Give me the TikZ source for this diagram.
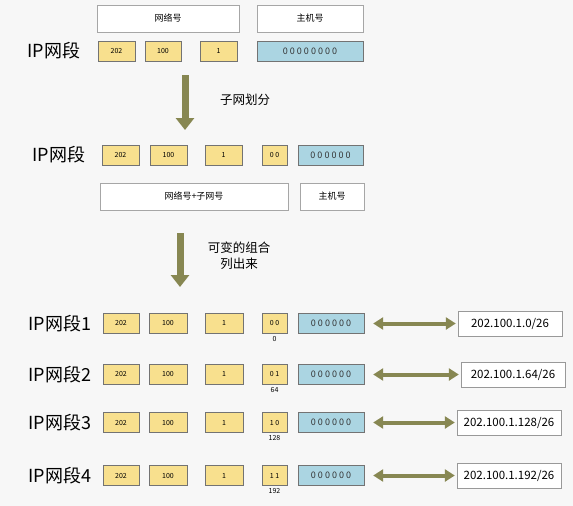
\documentclass[tikz,border=0pt]{standalone}
\usepackage{fontspec}
\setmainfont{Noto Sans CJK SC}
\usetikzlibrary{arrows.meta,positioning}
\definecolor{netyellow}{HTML}{F8E08E}
\definecolor{hostblue}{HTML}{ABD5E2}
\definecolor{olivearrow}{HTML}{878752}
\tikzset{
  netbox/.style={draw=black!55,fill=netyellow,minimum height=20pt,inner sep=0pt,font=\fontsize{7}{8}\selectfont},
  hostbox/.style={draw=black!55,fill=hostblue,minimum height=20pt,minimum width=66pt,inner sep=0pt,text=black!80,font=\fontsize{9}{10}\selectfont},
  partbox/.style={draw=black!35,fill=white,minimum height=27pt,inner sep=0pt,font=\fontsize{9}{10}\selectfont},
  resultbox/.style={draw=black!40,fill=white,minimum width=104pt,minimum height=25pt,inner sep=0pt,font=\fontsize{11.5}{13}\selectfont},
  seglabel/.style={font=\fontsize{18}{20}\selectfont},
  numlabel/.style={inner sep=1pt,font=\fontsize{7}{8}\selectfont},
  steplabel/.style={align=center,font=\fontsize{12.5}{16}\selectfont},
  downarrow/.style={olivearrow,line width=7pt,-{Triangle[width=18pt,length=12pt]}},
  bothways/.style={olivearrow,line width=4pt,{Triangle[width=12pt,length=10pt]}-{Triangle[width=12pt,length=10pt]}},
}
\begin{document}
\begin{tikzpicture}[x=1pt,y=-1pt]
    \fill[black!3] (0,0) rectangle (573,506);
    \useasboundingbox (0,0) rectangle (573,506);
    % original address
    \node (net0) at (168,18.5) [partbox,minimum width=142pt] {网络号};
    \node (host0) at (310,18.5) [partbox,minimum width=106pt] {主机号};
    \node (ip0) at (54,51) [seglabel] {IP网段};
    \node (a0) at (116.5,51) [netbox,minimum width=37pt] {202};
    \node (b0) at (163,51) [netbox,minimum width=36pt] {100};
    \node (c0) at (218.5,51) [netbox,minimum width=37pt] {1};
    \node (h0) at (310,51) [hostbox,minimum width=106pt] {0 0 0 0 0 0 0 0};
    \coordinate (s1) at (185,75);
    \coordinate (e1) at (185,130);
    \draw[downarrow] (s1) -- (e1);
    \node (split) at (245,100) [steplabel] {子网划分};
    % after subnetting
    \node (ip1) at (59,155) [seglabel] {IP网段};
    \node (a1) at (120.5,155) [netbox,minimum width=37pt] {202};
    \node (b1) at (168.5,155) [netbox,minimum width=37pt] {100};
    \node (c1) at (223.5,155) [netbox,minimum width=37pt] {1};
    \node (d1) at (274.5,155) [netbox,minimum width=25pt] {0 0};
    \node (h1) at (330.5,155) [hostbox,minimum width=65pt] {0 0 0 0 0 0};
    \node (net1) at (194,196.5) [partbox,minimum width=188pt] {网络号+子网号};
    \node (host1) at (332,196.5) [partbox,minimum width=64pt] {主机号};
    \coordinate (s2) at (180,233);
    \coordinate (e2) at (180,287);
    \draw[downarrow] (s2) -- (e2);
    \node (combine) at (239,256) [steplabel] {可变的组合\\列出来};
    % the four subnets
    \foreach \i/\y/\bits/\dec/\res/\rx in {1/323.5/{0 0}/0/{202.100.1.0/26}/510,
        2/374.5/{0 1}/64/{202.100.1.64/26}/513,
        3/422.5/{1 0}/128/{202.100.1.128/26}/509,
        4/475.5/{1 1}/192/{202.100.1.192/26}/509}{
        \node (ip\i) at (60,\y) [seglabel] {IP网段\i};
        \node (a\i) at (121,\y) [netbox,minimum width=36pt] {202};
        \node (b\i) at (168,\y) [netbox,minimum width=38pt] {100};
        \node (c\i) at (224,\y) [netbox,minimum width=38pt] {1};
        \node (d\i) at (274.5,\y) [netbox,minimum width=25pt] {\bits};
        \node (h\i) at (331,\y) [hostbox] {0 0 0 0 0 0};
        \node (n\i) [numlabel,below=2pt of d\i] {\dec};
        \node (r\i) at (\rx,\y) [resultbox] {\res};
        \draw[bothways,shorten <=9pt,shorten >=2pt] (h\i) -- (r\i);
    }
\end{tikzpicture}
\end{document}
